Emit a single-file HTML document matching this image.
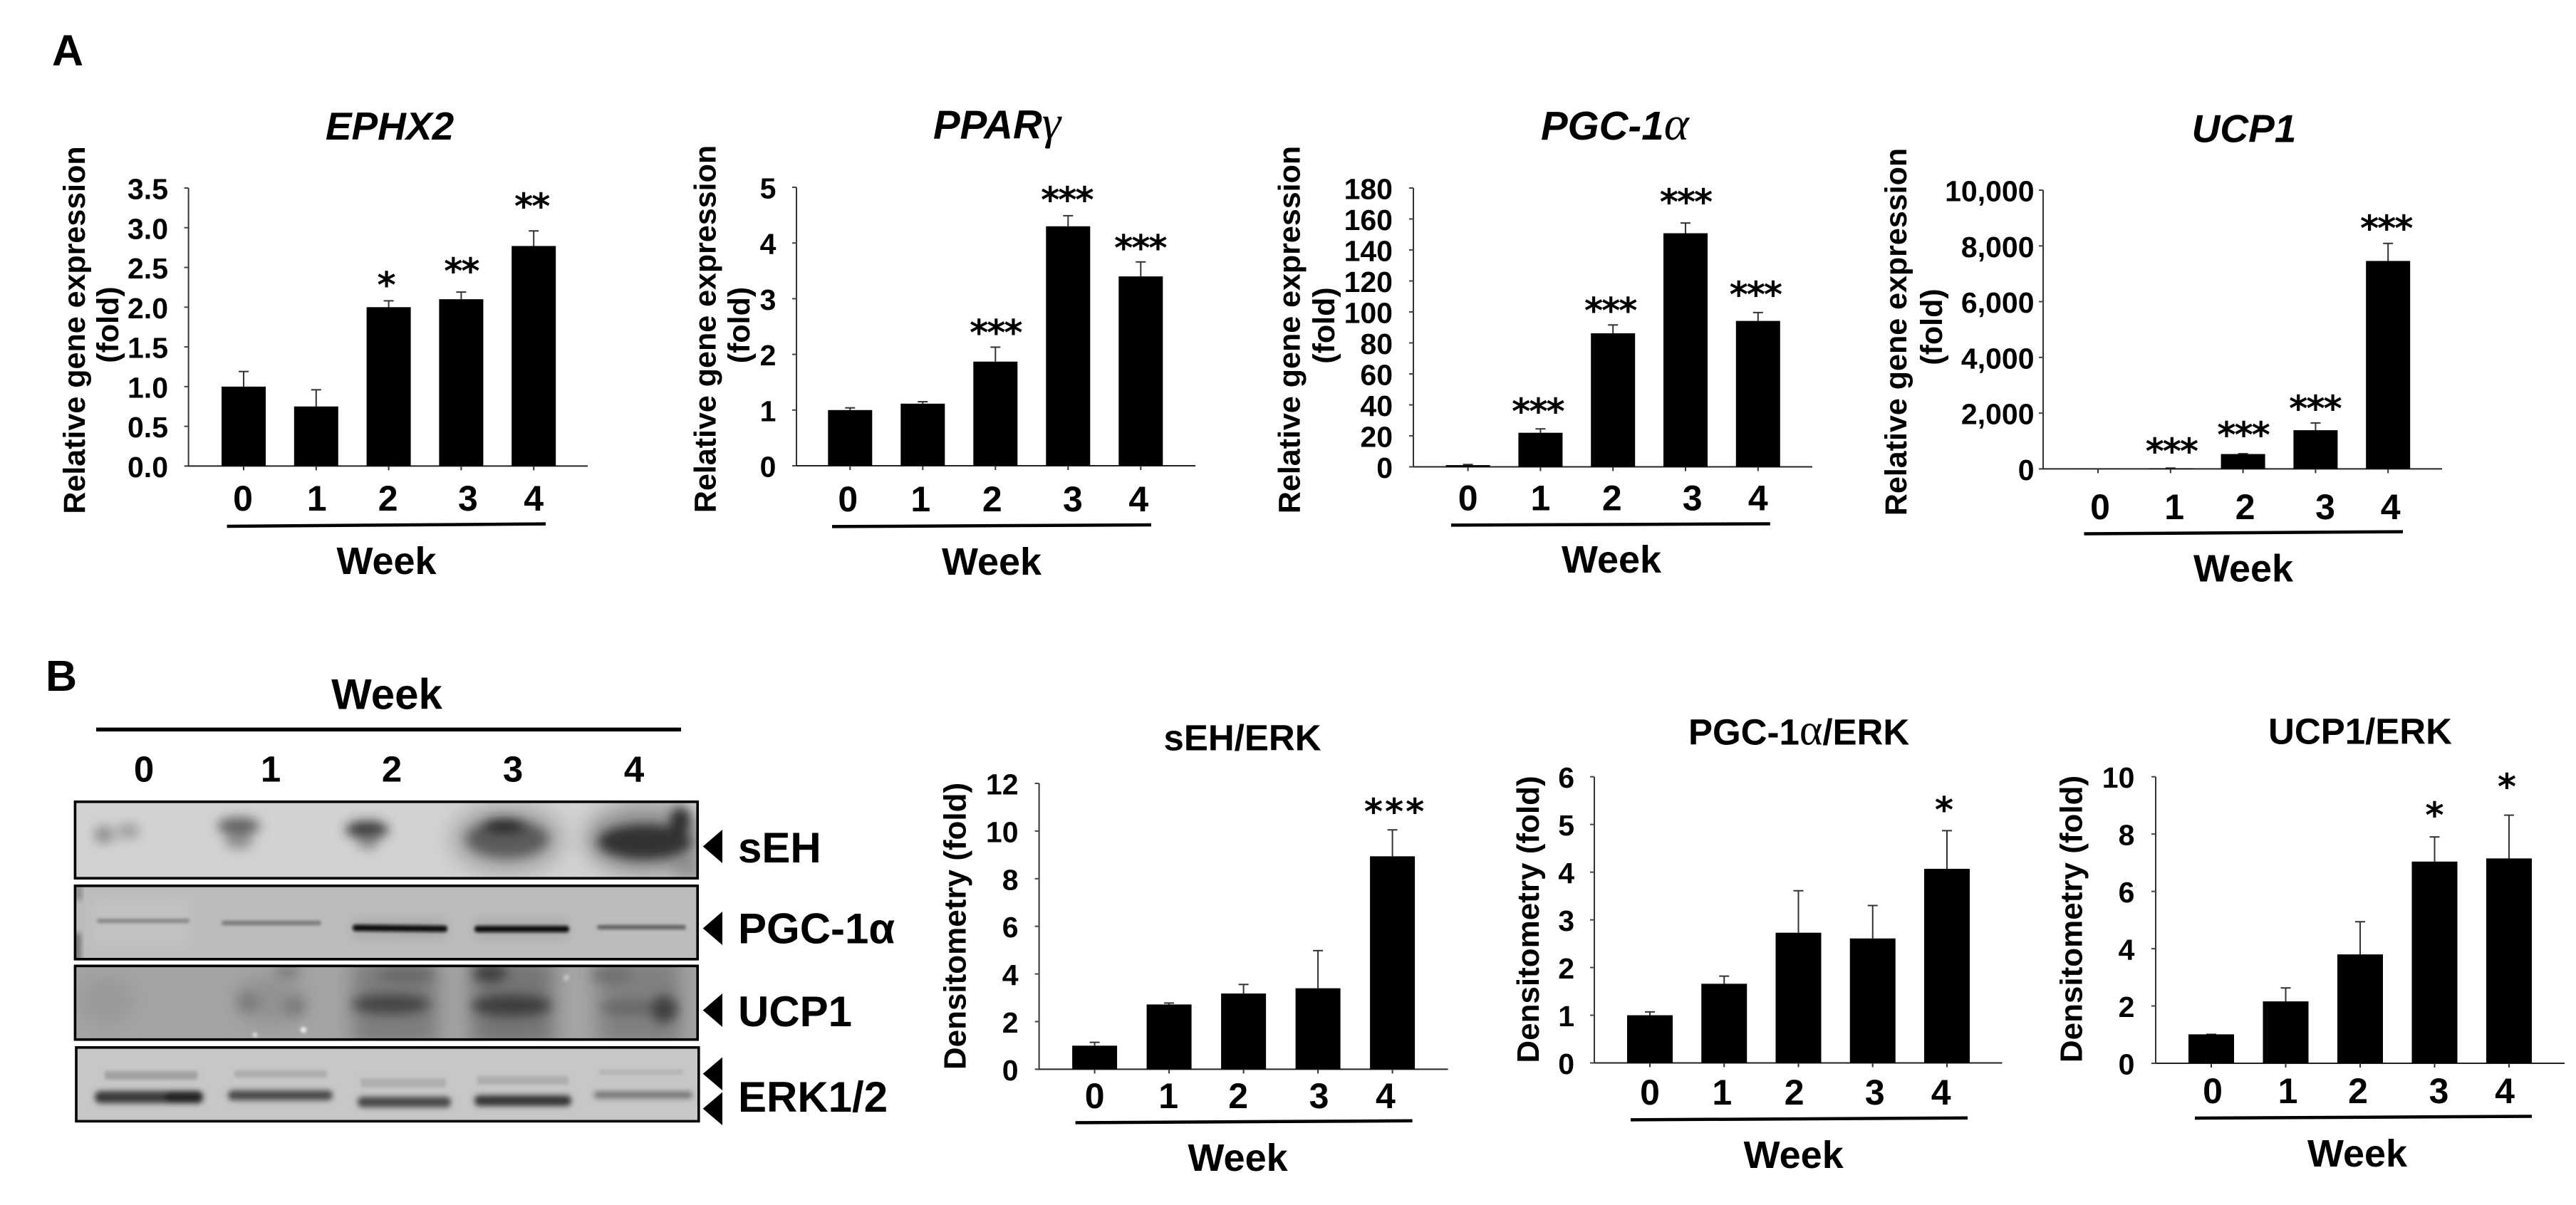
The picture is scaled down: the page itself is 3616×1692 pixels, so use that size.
<!DOCTYPE html>
<html lang="en">
<head>
<meta charset="utf-8">
<title>Gene expression and densitometry by week</title>
<style>
html,body{margin:0;padding:0;background:#fff;width:3616px;height:1692px;overflow:hidden}
svg{display:block}
text{font-family:"Liberation Sans",sans-serif;font-weight:700;fill:#000}
.panel{font-size:61px}
.gene{font-size:55px;font-style:italic}
.gene-wide{font-size:56.5px;font-style:italic}
.greek{font-family:"Liberation Serif",serif;font-weight:400;font-style:italic;font-size:67px}
.ratio{font-size:51px}
.greek-up{font-family:"Liberation Serif",serif;font-weight:400;font-size:62px}
.ytitle{font-size:43px;text-anchor:middle}
.dtitle{font-size:44px;text-anchor:middle}
.week{font-size:54px;text-anchor:middle}
.blotlabel{font-size:60px}
.blotnum{font-size:51px;text-anchor:middle}
</style>
</head>
<body>
<svg xmlns="http://www.w3.org/2000/svg" width="3616" height="1692" viewBox="0 0 3616 1692">
<defs>
<filter id="blur2" x="-30%" y="-100%" width="160%" height="300%"><feGaussianBlur stdDeviation="2"/></filter>
<filter id="blur4" x="-30%" y="-100%" width="160%" height="300%"><feGaussianBlur stdDeviation="4"/></filter>
<filter id="blur8" x="-30%" y="-100%" width="160%" height="300%"><feGaussianBlur stdDeviation="8"/></filter>
<filter id="blur14" x="-30%" y="-100%" width="160%" height="300%"><feGaussianBlur stdDeviation="14"/></filter>
<clipPath id="clip-seh"><rect x="105" y="1126" width="874" height="107"/></clipPath>
<clipPath id="clip-pgc"><rect x="105" y="1244" width="874" height="103"/></clipPath>
<clipPath id="clip-ucp"><rect x="105" y="1356" width="874" height="104"/></clipPath>
<clipPath id="clip-erk"><rect x="107" y="1471" width="874" height="104"/></clipPath>
</defs>
<rect x="0" y="0" width="3616" height="1692" fill="#fff"/>

<text class="panel" x="73" y="92">A</text>
<text class="panel" x="64" y="970">B</text>

<g id="chart-ephx2">
<text class="gene" x="547" y="196" text-anchor="middle">EPHX2</text>
<text class="ytitle" transform="translate(119,463.5) rotate(-90)">Relative gene expression</text>
<text class="ytitle" transform="translate(166,456) rotate(-90)">(fold)</text>
<line x1="318.6" y1="739" x2="766" y2="735.6" stroke="#000" stroke-width="4.5"/>
<text class="week" x="542.5" y="806">Week</text>
</g>

<g id="chart-ppar">
<text class="gene-wide" x="1310" y="194.5">PPAR<tspan class="greek">γ</tspan></text>
<text class="ytitle" transform="translate(1004.5,462) rotate(-90)">Relative gene expression</text>
<text class="ytitle" transform="translate(1052,456.5) rotate(-90)">(fold)</text>
<line x1="1168" y1="739.4" x2="1616" y2="737" stroke="#000" stroke-width="4.5"/>
<text class="week" x="1392" y="807">Week</text>
</g>

<g id="chart-pgc">
<text class="gene-wide" x="2163" y="196">PGC-1<tspan class="greek">α</tspan></text>
<text class="ytitle" transform="translate(1824.6,463) rotate(-90)">Relative gene expression</text>
<text class="ytitle" transform="translate(1873,457) rotate(-90)">(fold)</text>
<line x1="2037" y1="737.4" x2="2484.8" y2="735.5" stroke="#000" stroke-width="4.5"/>
<text class="week" x="2262" y="804">Week</text>
</g>

<g id="chart-ucp">
<text class="gene" x="3150" y="199.4" text-anchor="middle">UCP1</text>
<text class="ytitle" transform="translate(2676,466) rotate(-90)">Relative gene expression</text>
<text class="ytitle" transform="translate(2726,459) rotate(-90)">(fold)</text>
<line x1="2925.5" y1="749.5" x2="3373" y2="746.6" stroke="#000" stroke-width="4.5"/>
<text class="week" x="3149" y="816.4">Week</text>
</g>

<g>
<text x="543" y="995.5" text-anchor="middle" style="font-size:60px">Week</text>
<line x1="135" y1="1024.4" x2="956" y2="1024.4" stroke="#000" stroke-width="5.5"/>
<text class="blotnum" x="202" y="1097.4">0</text>
<text class="blotnum" x="380" y="1097.4">1</text>
<text class="blotnum" x="550" y="1097.4">2</text>
<text class="blotnum" x="720" y="1097.4">3</text>
<text class="blotnum" x="890" y="1097.4">4</text>

<g>
<rect x="105" y="1126" width="874" height="107" fill="#d2d2d2"/>
<g clip-path="url(#clip-seh)">
<g filter="url(#blur14)">
<ellipse cx="712" cy="1178" rx="80" ry="50" fill="#a8a8a8"/>
<ellipse cx="905" cy="1178" rx="85" ry="52" fill="#989898"/>
<ellipse cx="968" cy="1222" rx="22" ry="14" fill="#777"/>
</g>
<g filter="url(#blur8)">
<ellipse cx="146" cy="1172" rx="14" ry="12" fill="#8c8c8c"/>
<ellipse cx="180" cy="1167" rx="16" ry="10" fill="#9a9a9a"/>
<ellipse cx="335" cy="1160" rx="30" ry="12" fill="#5f5f5f"/>
<ellipse cx="335" cy="1181" rx="20" ry="11" fill="#8e8e8e"/>
<ellipse cx="515" cy="1165" rx="30" ry="12" fill="#333"/>
<ellipse cx="517" cy="1183" rx="16" ry="9" fill="#888"/>
<ellipse cx="712" cy="1178" rx="58" ry="27" fill="#5b5b5b"/>
<ellipse cx="708" cy="1160" rx="32" ry="10" fill="#1c1c1c"/>
<ellipse cx="905" cy="1182" rx="66" ry="25" fill="#303030"/>
<ellipse cx="955" cy="1152" rx="14" ry="19" fill="#2c2c2c"/>
</g>
</g>
<rect x="105.4" y="1125.8" width="873.8" height="107.4" fill="none" stroke="#000" stroke-width="3.6"/>
</g>

<g>
<rect x="105" y="1244" width="874" height="103" fill="#bcbcbc"/>
<g clip-path="url(#clip-pgc)">
<g filter="url(#blur4)"><rect x="105" y="1310" width="8" height="40" fill="#666"/><rect x="105" y="1244" width="10" height="20" fill="#8a8a8a"/></g>
<g filter="url(#blur8)">
<rect x="130" y="1262" width="135" height="65" fill="#c2c2c2"/>
<rect x="495" y="1290" width="132" height="28" fill="#aaa"/>
<rect x="666" y="1290" width="132" height="28" fill="#aaa"/>
</g>
<g filter="url(#blur2)">
<rect x="136" y="1290" width="130" height="6" rx="3" fill="#868686"/>
<rect x="311" y="1293" width="140" height="6" rx="3" fill="#777"/>
<rect x="495" y="1299" width="133" height="9" rx="4" fill="#0c0c0c" transform="rotate(0.6 560 1303)"/>
<rect x="666" y="1300" width="133" height="9" rx="4" fill="#0e0e0e"/>
<rect x="838" y="1299" width="125" height="6" rx="3" fill="#5d5d5d"/>
</g>
</g>
<rect x="105.4" y="1243.8" width="873.8" height="103" fill="none" stroke="#000" stroke-width="3.6"/>
</g>

<g>
<rect x="105" y="1356" width="874" height="104" fill="#a4a4a4"/>
<g clip-path="url(#clip-ucp)">
<g filter="url(#blur14)">
<rect x="495" y="1345" width="120" height="125" fill="#7d7d7d"/>
<rect x="662" y="1345" width="115" height="125" fill="#747474"/>
<rect x="840" y="1345" width="115" height="125" fill="#808080"/>
<ellipse cx="380" cy="1405" rx="48" ry="36" fill="#929292"/>
<ellipse cx="150" cy="1405" rx="40" ry="34" fill="#999"/>
</g>
<g filter="url(#blur8)">
<ellipse cx="349" cy="1407" rx="16" ry="14" fill="#7d7d7d"/>
<ellipse cx="413" cy="1413" rx="16" ry="14" fill="#7d7d7d"/>
<ellipse cx="404" cy="1365" rx="18" ry="8" fill="#777"/>
<ellipse cx="549" cy="1410" rx="55" ry="14" fill="#444"/>
<ellipse cx="718" cy="1412" rx="56" ry="15" fill="#3d3d3d"/>
<ellipse cx="688" cy="1367" rx="24" ry="12" fill="#3d3d3d"/>
<ellipse cx="885" cy="1415" rx="42" ry="10" fill="#666"/>
<ellipse cx="932" cy="1417" rx="19" ry="19" fill="#404040"/>
<ellipse cx="859" cy="1370" rx="30" ry="11" fill="#707070"/>
<ellipse cx="570" cy="1370" rx="40" ry="10" fill="#666"/>
</g>
<g filter="url(#blur2)">
<circle cx="358" cy="1453" r="3" fill="#eee"/>
<circle cx="426" cy="1446" r="4" fill="#f4f4f4"/>
<circle cx="795" cy="1373" r="4" fill="#c8c8c8"/>
</g>
</g>
<rect x="105.4" y="1356.3" width="873.8" height="103.4" fill="none" stroke="#000" stroke-width="3.6"/>
</g>

<g>
<rect x="107" y="1471" width="874" height="104" fill="#c7c7c7"/>
<g clip-path="url(#clip-erk)">
<g filter="url(#blur2)">
<rect x="147" y="1504" width="130" height="12" fill="#a2a2a2"/>
<rect x="329" y="1503" width="130" height="10" fill="#acacac"/>
<rect x="506" y="1514" width="120" height="13" fill="#b0b0b0"/>
<rect x="670" y="1511" width="128" height="12" fill="#aeaeae"/>
<rect x="841" y="1502" width="118" height="7" fill="#b4b4b4"/>
</g>
<g filter="url(#blur4)">
<rect x="133" y="1532" width="152" height="17" rx="8" fill="#3a3a3a"/>
<rect x="232" y="1532" width="53" height="17" rx="8" fill="#222"/>
<rect x="320" y="1531" width="147" height="14" rx="7" fill="#484848"/>
<rect x="502" y="1540" width="131" height="15" rx="7" fill="#484848"/>
<rect x="666" y="1538" width="136" height="15" rx="7" fill="#363636"/>
<rect x="834" y="1533" width="138" height="9" rx="4" fill="#6c6c6c"/>
</g>
</g>
<rect x="107" y="1470.8" width="873.8" height="103.6" fill="none" stroke="#000" stroke-width="3.6"/>
</g>

<polygon points="986.7,1188.5 1014,1165 1014,1212" fill="#000"/>
<polygon points="986.7,1303.5 1014,1280 1014,1327" fill="#000"/>
<polygon points="986.7,1418.5 1014,1395 1014,1442" fill="#000"/>
<polygon points="986.7,1507.7 1014,1484.5 1014,1531" fill="#000"/>
<polygon points="986.7,1556.8 1014,1533.6 1014,1580" fill="#000"/>

<text class="blotlabel" x="1036" y="1211">sEH</text>
<text class="blotlabel" x="1036" y="1324.7">PGC-1α</text>
<text class="blotlabel" x="1036" y="1441">UCP1</text>
<text class="blotlabel" x="1036" y="1561">ERK1/2</text>
</g>

<g id="chart-seh-erk">
<text class="ratio" x="1744" y="1053.7" text-anchor="middle">sEH/ERK</text>
<text class="dtitle" transform="translate(1355.5,1300.5) rotate(-90)">Densitometry (fold)</text>
<line x1="1509.6" y1="1576.4" x2="1982.6" y2="1573.8" stroke="#000" stroke-width="4.5"/>
<text class="week" x="1737.6" y="1644">Week</text>
</g>

<g id="chart-pgc-erk">
<text class="ratio" x="2370" y="1045.6">PGC-1<tspan class="greek-up">α</tspan>/ERK</text>
<text class="dtitle" transform="translate(2160,1291) rotate(-90)">Densitometry (fold)</text>
<line x1="2289" y1="1572.4" x2="2762" y2="1569.7" stroke="#000" stroke-width="4.5"/>
<text class="week" x="2517.7" y="1640">Week</text>
</g>

<g id="chart-ucp-erk">
<text class="ratio" x="3313" y="1044.7" text-anchor="middle">UCP1/ERK</text>
<text class="dtitle" transform="translate(2922.7,1290.5) rotate(-90)">Densitometry (fold)</text>
<line x1="3081" y1="1570" x2="3554" y2="1567.5" stroke="#000" stroke-width="4.5"/>
<text class="week" x="3309" y="1638">Week</text>
</g>
</svg>

<script>
const weeks = ['0', '1', '2', '3', '4'];

const ephx2Values = [1.0, 0.75, 2.0, 2.1, 2.77];
const ephx2Errors = [0.19, 0.21, 0.08, 0.09, 0.19];
const ephx2Ticks = ['0.0', '0.5', '1.0', '1.5', '2.0', '2.5', '3.0', '3.5'];
const ephx2Stars = ['', '', '*', '**', '**'];

const pparValues = [1.0, 1.115, 1.87, 4.3, 3.4];
const pparErrors = [0.04, 0.035, 0.26, 0.19, 0.26];
const pparTicks = ['0', '1', '2', '3', '4', '5'];
const pparStars = ['', '', '***', '***', '***'];

const pgcValues = [1.1, 22, 86.2, 150.8, 94.2];
const pgcErrors = [0.4, 2.5, 5.4, 6.6, 5.4];
const pgcTicks = ['0', '20', '40', '60', '80', '100', '120', '140', '160', '180'];
const pgcStars = ['', '***', '***', '***', '***'];

const ucpValues = [1, 20, 533, 1388, 7460];
const ucpErrors = [0, 10, 12, 260, 630];
const ucpTicks = ['0', '2,000', '4,000', '6,000', '8,000', '10,000'];
const ucpStars = ['', '***', '***', '***', '***'];

const sehErkValues = [0.99, 2.72, 3.18, 3.4, 8.94];
const sehErkErrors = [0.14, 0.06, 0.38, 1.58, 1.11];
const sehErkTicks = ['0', '2', '4', '6', '8', '10', '12'];
const sehErkStars = ['', '', '', '', '***'];

const pgcErkValues = [1.0, 1.66, 2.73, 2.61, 4.07];
const pgcErkErrors = [0.07, 0.16, 0.88, 0.69, 0.8];
const pgcErkTicks = ['0', '1', '2', '3', '4', '5', '6'];
const pgcErkStars = ['', '', '', '', '*'];

const ucpErkValues = [1.01, 2.16, 3.8, 7.04, 7.15];
const ucpErkErrors = [0, 0.47, 1.14, 0.86, 1.51];
const ucpErkTicks = ['0', '2', '4', '6', '8', '10'];
const ucpErkStars = ['', '', '', '*', '*'];

const SVG_NS = 'http://www.w3.org/2000/svg';

function make(tag, attrs, parent, content) {
  const el = document.createElementNS(SVG_NS, tag);
  Object.keys(attrs).forEach(function (k) { el.setAttribute(k, attrs[k]); });
  if (content !== undefined) el.textContent = content;
  parent.appendChild(el);
  return el;
}

function tickValue(label) {
  return parseFloat(label.replace(/,/g, ''));
}

function drawChart(layout, values, errors, ticks, stars) {
  const group = document.getElementById(layout.id);
  const prefix = layout.prefix;
  const maxValue = tickValue(ticks[ticks.length - 1]);
  const yScale = function (v) { return layout.yBase - (v / maxValue) * (layout.yBase - layout.yTop); };
  const xScale = function (i) { return layout.x0 + i * layout.step; };

  const yAxis = make('line', { x1: layout.axisX, y1: layout.yTop, x2: layout.axisX, y2: layout.yBase, stroke: '#333', 'stroke-width': 2 }, group);
  
  

  const xAxis = make('line', { x1: layout.axisX - 5, y1: layout.yBase, x2: layout.axisEnd, y2: layout.yBase, stroke: '#222', 'stroke-width': 2 }, group);
  
  

  ticks.forEach(function (label) {
    const y = yScale(tickValue(label));
    const tick = make('line', { x1: layout.axisX - 6, y1: y, x2: layout.axisX, y2: y, stroke: '#444', 'stroke-width': 2 }, group);
    
    
    const text = make('text', { x: layout.labelRight, y: y + 15.5, 'text-anchor': 'end', style: 'font-size:41px' }, group, label);
    
    
  });

  weeks.forEach(function (week, i) {
    const cx = xScale(i);
    const top = yScale(values[i]);
    const errTop = yScale(values[i] + errors[i]);

    const stem = make('line', { x1: cx, y1: top, x2: cx, y2: errTop, stroke: '#333', 'stroke-width': 2 }, group);
    
    
    const cap = make('line', { x1: cx - 7, y1: errTop, x2: cx + 7, y2: errTop, stroke: '#333', 'stroke-width': 2 }, group);
    
    

    const bar = make('rect', { x: cx - layout.barW / 2, y: top, width: layout.barW, height: layout.yBase - top, fill: '#000' }, group);
    
    

    const xTick = make('line', { x1: cx, y1: layout.yBase, x2: cx, y2: layout.yBase + 6, stroke: '#333', 'stroke-width': 2 }, group);
    
    

    const xLabel = make('text', { x: cx + layout.labelShift[i], y: layout.labelBase, 'text-anchor': 'middle', style: 'font-size:50px' }, group, week);
    
    

    if (stars[i]) {
      const star = make('text', {
        x: cx + layout.starShift[i],
        y: errTop - layout.starGap[i] + 25,
        'text-anchor': 'middle',
        style: 'font-family:"DejaVu Sans",sans-serif;font-weight:700;font-size:50px;letter-spacing:' + layout.starSpacing + 'px'
      }, group, stars[i]);
      
      
    }
  });
}

drawChart({ id: 'chart-ephx2', prefix: 'ephx2', axisX: 264.6, axisEnd: 825, yTop: 264, yBase: 654.4, x0: 342, step: 101.8, barW: 62, labelRight: 236, labelBase: 717, labelShift: [-1, 1, -1, 9.5, 0], starGap: [0, 0, 30, 37, 42], starShift: [0, 0, -4, 0, -3], starSpacing: -2 }, ephx2Values, ephx2Errors, ephx2Ticks, ephx2Stars);
drawChart({ id: 'chart-ppar', prefix: 'ppar-gamma', axisX: 1118, axisEnd: 1678, yTop: 263, yBase: 654, x0: 1193.3, step: 102, barW: 62, labelRight: 1089.4, labelBase: 718, labelShift: [-3, -3, -4.5, 6.6, -3], starGap: [0, 0, 28, 30, 27.5], starShift: [0, 0, 0, -2, -1], starSpacing: -2 }, pparValues, pparErrors, pparTicks, pparStars);
drawChart({ id: 'chart-pgc', prefix: 'pgc-1-alpha', axisX: 1984, axisEnd: 2544, yTop: 264, yBase: 655.5, x0: 2060.6, step: 101.8, barW: 62, labelRight: 1955, labelBase: 716.6, labelShift: [0, 0, -1.4, 9.7, 0], starGap: [0, 32, 28, 37, 33], starShift: [0, -4, -4, 0, -4], starSpacing: -2 }, pgcValues, pgcErrors, pgcTicks, pgcStars);
drawChart({ id: 'chart-ucp', prefix: 'ucp1', axisX: 2868, axisEnd: 3428, yTop: 267, yBase: 658.4, x0: 2945, step: 101.8, barW: 62, labelRight: 2855.5, labelBase: 729, labelShift: [3, 5.4, 3, 13.6, 3.5], starGap: [0, 31, 34, 28, 29], starShift: [0, 1, 0, -1, -3], starSpacing: -2 }, ucpValues, ucpErrors, ucpTicks, ucpStars);
drawChart({ id: 'chart-seh-erk', prefix: 'seh-erk', axisX: 1458.6, axisEnd: 2032.6, yTop: 1100, yBase: 1501.4, x0: 1536.6, step: 104.5, barW: 63, labelRight: 1429.5, labelBase: 1556, labelShift: [0, -1, -7.4, 1.4, -9.7], starGap: [0, 0, 0, 0, 33], starShift: [0, 0, 0, 0, 4], starSpacing: 3 }, sehErkValues, sehErkErrors, sehErkTicks, sehErkStars);
drawChart({ id: 'chart-pgc-erk', prefix: 'pgc-erk', axisX: 2238, axisEnd: 2810.5, yTop: 1090.7, yBase: 1492.5, x0: 2316, step: 104.25, barW: 64, labelRight: 2210, labelBase: 1551, labelShift: [0, -3, -5.8, 3, -8.3], starGap: [0, 0, 0, 0, 37], starShift: [0, 0, 0, 0, -4], starSpacing: 0 }, pgcErkValues, pgcErkErrors, pgcErkTicks, pgcErkStars);
drawChart({ id: 'chart-ucp-erk', prefix: 'ucp-erk', axisX: 3026, axisEnd: 3600, yTop: 1090.7, yBase: 1493, x0: 3104, step: 104.5, barW: 64, labelRight: 2996.4, labelBase: 1549, labelShift: [2, 3, -3, 6, -6], starGap: [0, 0, 0, 38, 47.6], starShift: [0, 0, 0, 0, -3], starSpacing: 0 }, ucpErkValues, ucpErkErrors, ucpErkTicks, ucpErkStars);
</script>
</body>
</html>
